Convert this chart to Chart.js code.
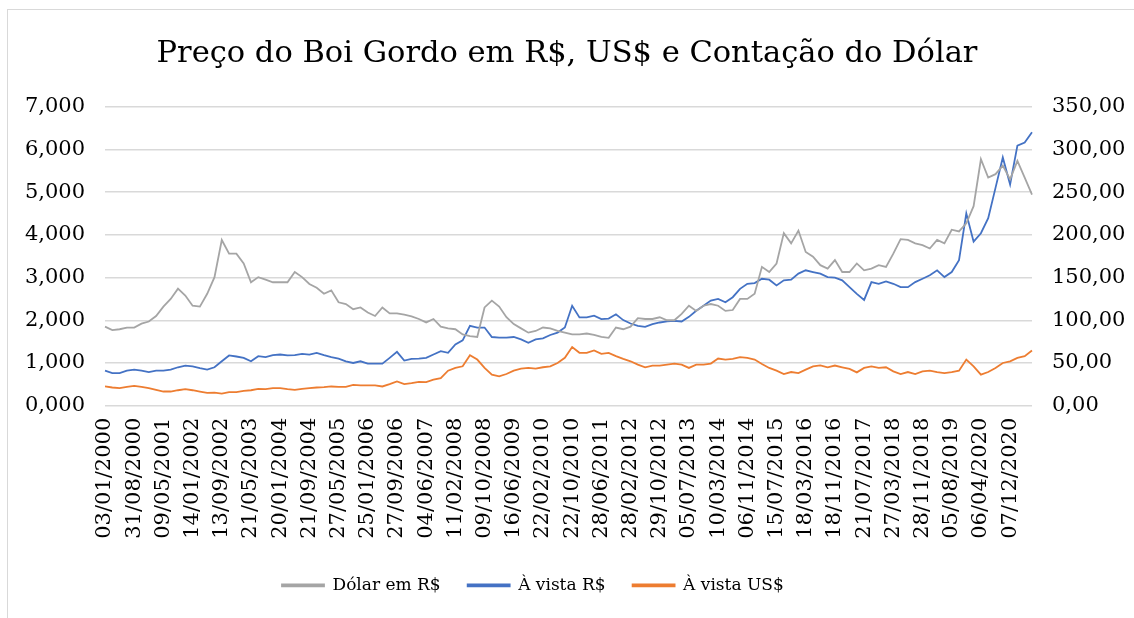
<!DOCTYPE html>
<html lang="pt-BR">
<head>
<meta charset="utf-8">
<title>Preço do Boi Gordo</title>
<script src="https://cdn.jsdelivr.net/npm/chart.js@4.4.1/dist/chart.umd.min.js"></script>
<style>
  body { margin: 0; overflow: hidden; background: #fff; }
  #moldura { position: absolute; left: 7px; top: 9px; width: 1300px; height: 800px; border-left: 1.5px solid #d9d9d9; border-top: 1.5px solid #d9d9d9; }
  #caixa { position: absolute; left: 0; top: 0; width: 1134px; height: 618px; }
</style>
</head>
<body>
<div id="moldura"></div>
<div id="caixa"><canvas id="graficoBoi"></canvas></div>
<script>
// Datas mostradas no eixo (uma a cada 4 pontos)
const datasEixo = ['03/01/2000', '31/08/2000', '09/05/2001', '14/01/2002', '13/09/2002', '21/05/2003',
  '20/01/2004', '21/09/2004', '27/05/2005', '25/01/2006', '27/09/2006', '04/06/2007', '11/02/2008',
  '09/10/2008', '16/06/2009', '22/02/2010', '22/10/2010', '28/06/2011', '28/02/2012', '29/10/2012',
  '05/07/2013', '10/03/2014', '06/11/2014', '15/07/2015', '18/03/2016', '18/11/2016', '21/07/2017',
  '27/03/2018', '28/11/2018', '05/08/2019', '06/04/2020', '07/12/2020'];
const pontosPorData = 4;

// Dólar em R$ (eixo esquerdo)
const dolar = [
  1.85, 1.77, 1.79, 1.83, 1.83, 1.92, 1.97, 2.10, 2.32, 2.50, 2.74, 2.58, 2.34, 2.32, 2.62, 3.01, 3.88, 3.56, 3.56, 3.33, 2.89, 3.01,
  2.95, 2.89, 2.89, 2.89, 3.13, 3.01, 2.85, 2.76, 2.62, 2.70, 2.42, 2.38, 2.26, 2.30, 2.18, 2.10, 2.30, 2.16, 2.16, 2.13, 2.09, 2.03,
  1.95, 2.03, 1.85, 1.81, 1.79, 1.67, 1.63, 1.61, 2.30, 2.46, 2.32, 2.07, 1.91, 1.81, 1.71, 1.75, 1.83, 1.81, 1.75, 1.71, 1.67, 1.67,
  1.69, 1.66, 1.61, 1.59, 1.83, 1.79, 1.85, 2.05, 2.03, 2.03, 2.07, 2.00, 2.00, 2.15, 2.34, 2.22, 2.34, 2.38, 2.34, 2.22, 2.24, 2.50,
  2.50, 2.62, 3.25, 3.13, 3.33, 4.04, 3.80, 4.10, 3.60, 3.49, 3.29, 3.21, 3.41, 3.13, 3.13, 3.33, 3.17, 3.21, 3.29, 3.25, 3.56, 3.90,
  3.88, 3.80, 3.76, 3.68, 3.88, 3.80, 4.12, 4.08, 4.27, 4.67, 5.77, 5.34, 5.42, 5.62, 5.30, 5.73, 5.34, 4.94
];

// Boi gordo à vista em R$ (eixo direito)
const vistaReal = [
  41, 38.2, 38.2, 41, 42.2, 41, 39.4, 41, 41, 42.2, 45, 47, 46, 44, 42.2, 45, 52, 58.8, 57.6, 56, 52, 58,
  56.8, 59.1, 59.9, 58.8, 59.1, 60.7, 59.9, 61.9, 59.1, 56.8, 55.2, 52, 50, 52, 49.3, 49.3, 49.3, 56, 63, 52.8, 54.8, 55.2,
  56, 59.9, 63.9, 61.9, 71.8, 76.5, 93.5, 91.5, 91.5, 80.4, 79.7, 79.7, 80.4, 77.7, 73.7, 77.7, 78.9, 82.8, 85.6, 91.5, 117, 103.3,
  103.3, 105.3, 101.3, 102, 107, 100.2, 96.2, 93.5, 92.3, 95.4, 97.4, 98.6, 99.4, 98.6, 104, 111.2, 117, 123, 125, 121, 127, 136.8,
  142.7, 143.5, 148.6, 147.5, 140.8, 146.7, 147.5, 154.6, 158.5, 156.5, 154.6, 150.6, 149.8, 146.7, 138.8, 130.9, 123.8, 144.7, 142.7, 145.5, 142.7, 138.8,
  138.8, 144.7, 148.6, 152.6, 158.5, 150.6, 156.5, 170.3, 225, 192, 201.9, 219.6, 255, 290.6, 259, 304.4, 308, 320
];

// Boi gordo à vista em US$ (eixo direito)
const vistaDolar = [
  22.5, 21.3, 20.5, 22, 23.3, 22, 20.5, 18.5, 16.6, 16.6, 18.1, 19.3, 18.1, 16.6, 15, 15.4, 14.2, 15.8, 15.8, 17.4, 18.1, 19.7,
  19.3, 20.5, 20.5, 19.3, 18.5, 19.7, 20.5, 21.3, 21.7, 22.5, 22, 22, 24.4, 23.7, 23.7, 23.7, 22.5, 25.2, 28.4, 25.2, 26.4, 28,
  27.6, 30.4, 32.3, 41, 44.2, 46.1, 59.1, 54, 44.2, 36.3, 34.3, 37.1, 41, 43.4, 44.2, 43.4, 45, 46.1, 50, 56, 68.6, 61.9,
  61.9, 64.7, 60.7, 61.9, 58, 54.8, 52, 48.1, 45, 47, 47, 48.1, 49.3, 48.1, 44.2, 48.1, 48.1, 49.3, 55.2, 54, 54.8, 56.8,
  56, 54, 48.9, 44.2, 41, 37.1, 39.4, 38.2, 42.2, 46.1, 47.3, 45, 47, 45, 43, 39, 44.2, 46.1, 44.2, 45, 40.2, 37.1,
  39.4, 37.1, 40.2, 41, 39.4, 38.2, 39.4, 41, 54, 46.1, 36.3, 39.4, 44.2, 50, 52, 56, 58, 64.7
];

// Monta as categorias: a data na posição do rótulo, vazio nas demais
const categorias = dolar.map((v, i) => (i % pontosPorData === 0 ? (datasEixo[i / pontosPorData] || '') : ''));

const fonte = 'DejaVu Serif';
const cinza = '#a5a5a5';
const azul = '#4472c4';
const laranja = '#ed7d31';

// Move a legenda para a posição do original (um pouco à esquerda do centro)
const posicaoLegenda = {
  id: 'posicaoLegenda',
  afterLayout(chart) {
    const lg = chart.legend;
    if (!lg || !lg.lineWidths) return;
    const pad = lg.options.labels.padding;
    const inicio = (lg.left + pad + lg.right - lg.lineWidths[0]) / 2;
    const dx = 282 - inicio;
    const centro = lg.top + pad + lg._computeTitleHeight() + 10.2;
    const dy = 587 - centro;
    lg.left += dx; lg.right += dx;
    lg.top += dy; lg.bottom += dy;
  }
};

const ctx = document.getElementById('graficoBoi').getContext('2d');
const grafico = new Chart(ctx, {
  type: 'line',
  data: {
    labels: categorias,
    datasets: [
      { label: 'Dólar em R$', data: dolar, yAxisID: 'y', borderColor: cinza, backgroundColor: cinza, borderWidth: 1.8, pointRadius: 0 },
      { label: 'À vista R$', data: vistaReal, yAxisID: 'y2', borderColor: azul, backgroundColor: azul, borderWidth: 1.8, pointRadius: 0 },
      { label: 'À vista US$', data: vistaDolar, yAxisID: 'y2', borderColor: laranja, backgroundColor: laranja, borderWidth: 1.8, pointRadius: 0 }
    ]
  },
  plugins: [posicaoLegenda],
  options: {
    responsive: true,
    maintainAspectRatio: false,
    animation: false,
    layout: { padding: { left: 0, right: 0, top: 0, bottom: 0 } },
    plugins: {
      title: {
        display: true,
        text: 'Preço do Boi Gordo em R$, US$ e Contação do Dólar',
        color: '#000',
        font: { family: fonte, size: 30.5, weight: 'normal' },
        padding: { top: 35.6, bottom: 34.5 }
      },
      legend: {
        position: 'bottom',
        labels: {
          color: '#000',
          font: { family: fonte, size: 17 },
          boxWidth: 42,
          boxHeight: 2,
          padding: 27
        }
      },
      tooltip: { enabled: false }
    },
    scales: {
      x: {
        grid: { display: false },
        border: { display: false },
        ticks: {
          autoSkip: false,
          maxRotation: 90,
          minRotation: 90,
          padding: 4,
          color: '#000',
          font: { family: fonte, size: 21 }
        },
        afterFit: escala => { escala.height = 158.3; }
      },
      y: {
        position: 'left',
        min: 0,
        max: 7,
        ticks: {
          stepSize: 1,
          padding: 20,
          color: '#000',
          font: { family: fonte, size: 21 },
          callback: v => v.toFixed(3).replace('.', ',')
        },
        grid: { color: '#d9d9d9', lineWidth: 1.5, drawTicks: false },
        border: { display: false },
        afterFit: escala => { escala.width = 105; }
      },
      y2: {
        position: 'right',
        min: 0,
        max: 350,
        ticks: {
          stepSize: 50,
          padding: 20,
          color: '#000',
          font: { family: fonte, size: 21 },
          callback: v => v.toFixed(2).replace('.', ',')
        },
        grid: { display: false, drawTicks: false },
        border: { display: false },
        afterFit: escala => { escala.width = 102; }
      }
    }
  }
});
</script>
</body>
</html>
